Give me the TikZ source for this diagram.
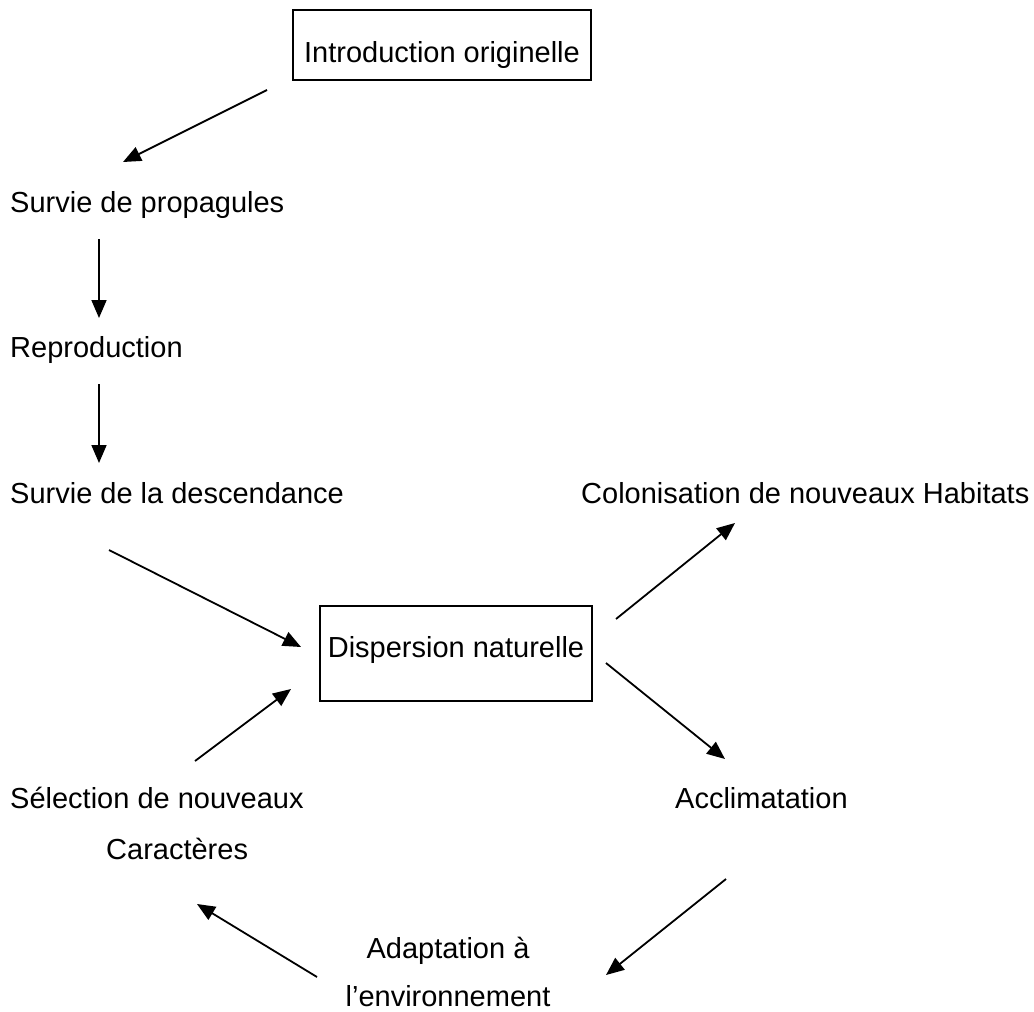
\documentclass[tikz,border=0pt]{standalone}
\usepackage{fontspec}
\setmainfont{Liberation Sans}
\usetikzlibrary{arrows.meta}

\tikzset{
  flow/.style={line width=1.8pt, -{Triangle[length=18pt,width=15pt]}},
  lbl/.style={inner sep=0pt, anchor=base west},
  boxed/.style={draw=black, line width=1.8pt, inner ysep=0pt}
}

\begin{document}
\begin{tikzpicture}[x=1pt,y=-1pt]
\useasboundingbox (0,0) rectangle (1034,1012);

\fontsize{29}{29}\selectfont
\node [boxed, inner xsep=11pt, text height=52pt, text depth=18pt, anchor=base] (intro) at (442,62) {Introduction originelle};
\node [lbl] (propagules) at (10,212) {Survie de propagules};
\node [lbl] (repro) at (10,357) {Reproduction};
\node [lbl] (descendance) at (10,503) {Survie de la descendance};
\node [lbl] (colonisation) at (581,503) {Colonisation de nouveaux Habitats};
\node [boxed, inner xsep=8pt, text height=51pt, text depth=44pt, anchor=base] (dispersion) at (456,657) {Dispersion naturelle};
\node [lbl] (selection) at (10,808) {Sélection de nouveaux};
\node [lbl] (caracteres) at (106,859) {Caractères};
\node [lbl] (acclim) at (675,808) {Acclimatation};
\node [inner sep=0pt, anchor=base, align=center] (adapt) at (448,1006) {Adaptation à\\[19pt]l'environnement};

% arrow ends
\coordinate (a1s) at (267,90);  \coordinate (a1e) at (123,162);
\coordinate (a2s) at (99,239);  \coordinate (a2e) at (99,318);
\coordinate (a3s) at (99,384);  \coordinate (a3e) at (99,463);
\coordinate (a4s) at (109,550); \coordinate (a4e) at (301,647);
\coordinate (a5s) at (195,761); \coordinate (a5e) at (291,689);
\coordinate (a6s) at (616,619); \coordinate (a6e) at (735,523);
\coordinate (a7s) at (606,663); \coordinate (a7e) at (725,759);
\coordinate (a8s) at (726,879); \coordinate (a8e) at (606,975);
\coordinate (a9s) at (317,977); \coordinate (a9e) at (197,904);

\draw [flow] (a1s) -- (a1e);
\draw [flow] (a2s) -- (a2e);
\draw [flow] (a3s) -- (a3e);
\draw [flow] (a4s) -- (a4e);
\draw [flow] (a5s) -- (a5e);
\draw [flow] (a6s) -- (a6e);
\draw [flow] (a7s) -- (a7e);
\draw [flow] (a8s) -- (a8e);
\draw [flow] (a9s) -- (a9e);

\end{tikzpicture}
\end{document}
